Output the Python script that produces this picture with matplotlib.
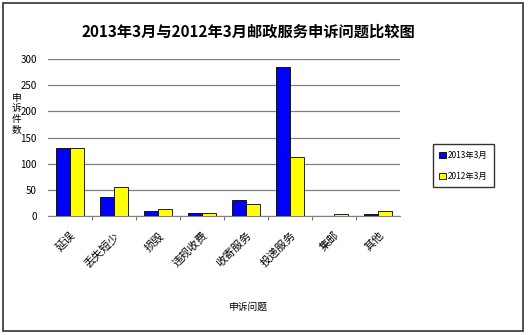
"""2013年3月与2012年3月邮政服务申诉问题比较图."""
import matplotlib.pyplot as plt
import numpy as np
from matplotlib.patches import Rectangle

plt.rcParams['font.family'] = ['Noto Sans CJK SC', 'DejaVu Sans']

categories = ["延误", "丢失短少", "损毁", "违规收费", "收寄服务", "投递服务", "集邮", "其他"]
series_names = ["2013年3月", "2012年3月"]
values_2013 = [130, 37, 10, 6, 31, 285, 0, 4]
values_2012 = [130, 55, 14, 6, 24, 113, 4, 10]
y_ticks = [0, 50, 100, 150, 200, 250, 300]

fig = plt.figure(figsize=(5.28, 3.35), dpi=100)
fig.patches.append(Rectangle((0.006, 0.012), 0.985, 0.98, transform=fig.transFigure,
                             fill=False, edgecolor="#333333", linewidth=1.2))

ax = fig.add_axes([0.091, 0.355, 0.667, 0.469])
x = np.arange(len(categories))
w = 0.32
ax.bar(x - w / 2, values_2013, w, color="#0000ff", edgecolor="black",
       linewidth=0.6, label=series_names[0], zorder=3)
ax.bar(x + w / 2, values_2012, w, color="#ffff00", edgecolor="black",
       linewidth=0.6, label=series_names[1], zorder=3)

ax.set_xlim(-0.5, len(categories) - 0.5)
ax.set_ylim(0, 300)
ax.set_yticks(y_ticks)
ax.tick_params(axis="y", length=0, labelsize=7, pad=8)
ax.yaxis.grid(True, color="#808080", linewidth=0.9, zorder=0)
for s in ["top", "right", "left"]:
    ax.spines[s].set_visible(False)
ax.spines["bottom"].set_color("#808080")

ax.set_xticks(x)
ax.set_xticklabels(categories, rotation=45, ha="right", rotation_mode="anchor",
                   fontsize=8)
ax.tick_params(axis="x", length=0, pad=10)
ax.set_xticks(np.arange(0.5, len(categories) - 0.5, 1), minor=True)
ax.tick_params(axis="x", which="minor", length=3, color="#555555")

fig.text(0.47, 0.905, "2013年3月与2012年3月邮政服务申诉问题比较图",
         ha="center", va="center", fontsize=11, fontweight="bold")
fig.text(0.032, 0.66, "申\n诉\n件\n数", ha="center", va="center",
         fontsize=7, linespacing=1.1)
fig.text(0.47, 0.085, "申诉问题", ha="center", va="center", fontsize=7)

ax.legend(loc="center left", bbox_to_anchor=(1.08, 0.32), fontsize=6,
          frameon=True, fancybox=False, edgecolor="black",
          handlelength=0.8, handleheight=0.8, handletextpad=0.2,
          labelspacing=1.4, borderpad=0.8)

fig.savefig("out.png", dpi=100)
